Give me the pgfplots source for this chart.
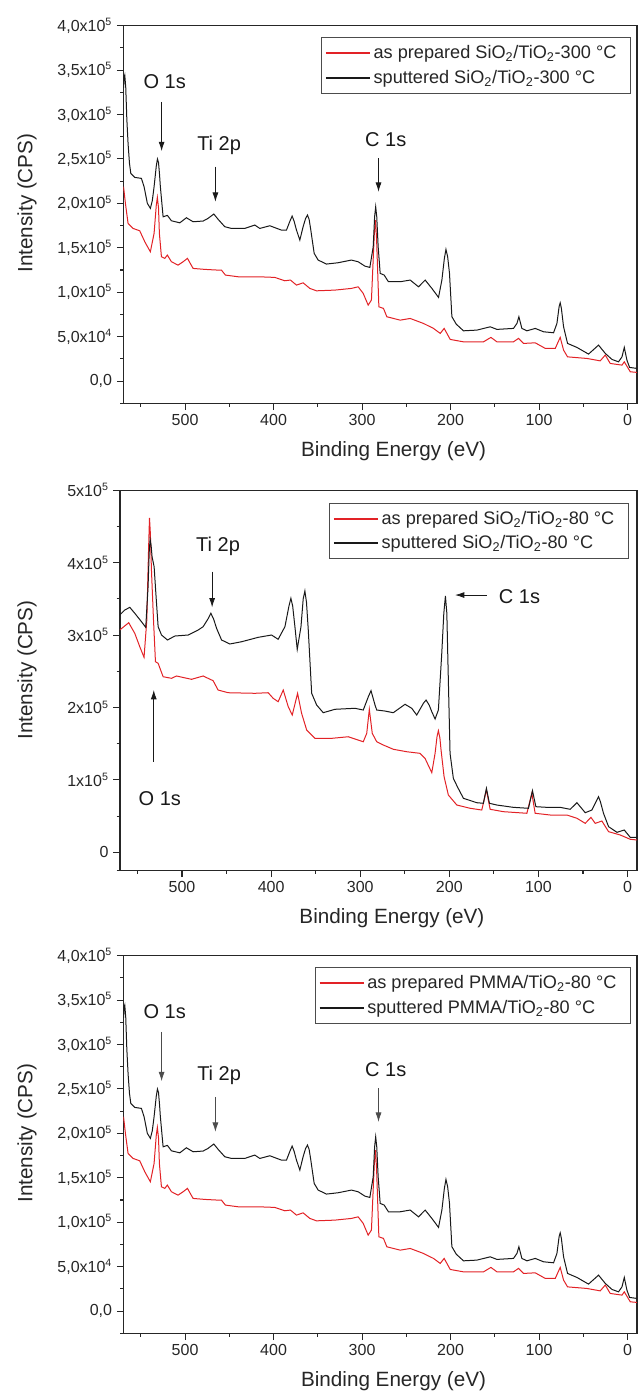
\documentclass[border=0pt]{standalone}
\usepackage{pgfplots}
\pgfplotsset{compat=1.18}
\usepackage{pgfplotstable}
\usetikzlibrary{arrows.meta}
\usepackage{fontspec}
\setmainfont{Liberation Sans}
\definecolor{spred}{RGB}{226,34,38}

% Panel 1 / 3 : sputtered (black)
\pgfplotstableread{
E I
569.5 330000
568.8 342000
568.1 344400
567.0 330000
565.8 295000
564.4 267500
562.8 245000
561.3 233700
556.8 229200
549.3 228100
546.3 218700
542.6 200000
539.2 194400
537.0 203000
535.0 218700
532.5 242000
531.2 249800
530.0 246000
528.8 232000
527.9 218700
524.8 184900
520.0 186500
515.4 180400
505.9 178100
498.5 183800
490.9 179300
479.6 180100
474.0 183100
467.5 188000
462.6 182000
455.1 173700
447.6 171800
432.5 171800
421.2 175600
415.5 171800
404.2 174800
391.1 169900
385.4 169900
381.5 180000
379.0 185700
376.8 180000
374.1 169900
370.3 158700
366.6 173700
363.8 183000
361.7 186800
359.8 182000
357.9 169900
354.1 143700
349.6 136200
340.2 131700
327.0 133200
312.0 136200
304.4 134300
296.8 129400
291.2 127900
287.4 151100
285.8 185000
284.6 196100
283.4 185000
281.8 151100
279.5 121200
275.0 119300
270.2 111800
256.9 111800
245.6 113700
236.2 106100
228.7 113700
221.1 104300
213.6 94200
209.8 113700
207.0 138000
205.2 148200
203.3 140000
201.2 121200
198.5 72500
193.6 64100
185.4 56600
170.2 57400
155.2 61100
147.6 58200
128.9 59300
125.0 64900
122.8 72400
119.4 59300
113.7 56600
104.3 59300
94.9 55500
83.6 54400
79.8 64900
77.3 84000
76.1 88100
74.8 82000
72.3 61100
67.8 42400
57.2 37900
44.1 30400
32.8 40500
25.2 31200
17.6 24400
10.2 21700
6.3 27300
3.7 37900
0.7 23600
-2.3 15400
-10.6 14300
}\blackA

% Panel 1 / 3 : as prepared (red)
\pgfplotstableread{
E I
569.5 218700
567.4 200000
564.4 177500
558.7 171800
551.2 169100
545.5 156800
539.2 145500
535.0 166200
532.5 198000
531.3 206700
530.0 195000
529.0 166200
526.7 139900
522.9 138100
520.0 141800
515.4 134300
507.9 130500
502.2 134300
497.3 138100
490.9 126800
477.7 125700
462.6 124900
458.9 124900
454.4 119300
440.0 117400
417.4 117400
398.6 116700
387.3 112900
380.9 113700
374.1 108000
366.6 110600
359.0 104300
351.5 101600
330.7 102400
312.0 104300
304.4 106100
298.7 98700
293.1 85500
289.4 91200
286.2 165000
284.8 181200
283.6 160000
281.0 83600
275.8 81800
272.0 72400
256.9 68600
245.6 70500
230.6 64900
219.3 59300
211.7 53700
207.2 59300
200.4 46900
185.4 44200
162.8 44200
154.4 49200
147.6 44200
128.9 44200
123.2 48100
117.6 42400
104.3 43100
93.0 36800
81.7 36800
76.1 49200
72.3 34900
67.8 27300
45.9 25500
30.9 22800
25.2 29300
19.6 19900
6.3 18000
3.7 21700
-3.1 10500
-10.6 9800
}\redA

% Panel 2 : sputtered (black)
\pgfplotstableread{
E I
569.9 327700
564.3 334600
558.6 338300
553.0 330100
545.5 318500
540.7 310700
538.1 366800
536.8 415000
535.8 432200
534.7 424000
533.6 408200
531.3 394400
529.1 353000
526.8 311600
523.0 300100
516.3 293200
508.1 298700
493.1 300100
481.9 307000
476.3 311600
471.0 322000
467.6 330100
464.5 322000
461.2 309300
455.6 293200
446.3 287700
433.2 290800
414.5 296900
399.5 300100
392.1 294200
384.5 311600
380.0 340000
377.8 350800
375.8 340000
373.3 311600
370.7 280300
366.5 311600
364.0 350000
362.1 360900
360.3 345000
358.3 307000
354.5 219600
348.9 203400
341.5 192800
328.4 197500
305.9 198900
296.6 196500
290.9 214900
287.9 223200
283.4 203400
281.5 196500
272.2 195100
262.9 192800
249.7 204400
242.2 198900
236.6 189600
229.0 206000
226.1 210300
222.5 203000
219.7 194200
216.0 184100
212.3 196500
208.5 274800
206.2 330000
204.4 354000
202.8 330000
201.8 274800
199.2 136700
195.5 102200
191.0 90600
184.2 74600
169.2 68500
161.8 67700
158.4 88400
155.0 67700
146.7 65300
128.1 62100
111.2 60800
106.7 85100
102.9 63000
90.5 62100
75.6 62100
64.4 59400
56.8 68500
47.5 54700
40.0 58400
34.5 72000
32.6 76800
30.5 70000
27.0 53900
21.3 35400
11.9 27600
3.7 30800
-3.0 20700
-10.6 20700
}\blackB

% Panel 2 : as prepared (red)
\pgfplotstableread{
E I
569.9 307000
559.8 317100
553.0 302400
547.4 283900
542.6 269300
539.5 320800
537.5 420000
536.5 462000
535.5 440000
534.3 389900
532.0 320800
529.8 263200
526.8 261000
521.2 242500
511.8 240300
506.2 243500
489.3 238900
476.3 243500
465.1 237000
459.5 224100
448.2 220400
418.2 219600
403.3 220400
397.7 212700
392.1 208000
386.4 224100
380.8 201100
376.3 189600
370.3 219600
365.8 192000
360.1 168900
350.8 157400
332.1 157400
313.4 159600
296.6 152700
292.7 164300
289.8 197500
286.5 164300
281.5 152700
274.1 148200
262.9 142300
247.8 138900
232.9 136700
227.3 129800
219.7 110000
216.0 136700
213.8 160000
212.3 168000
210.6 158000
209.3 141300
205.9 104400
201.1 79100
191.6 65300
176.7 60800
163.6 58400
158.4 86000
154.2 59400
139.3 56100
113.0 53900
107.4 81500
103.7 53900
86.8 51500
68.1 51500
56.8 47000
47.5 40000
41.1 48300
36.3 40000
28.8 43200
21.3 28500
8.2 23900
-3.0 18000
-10.6 17000
}\redB

\tikzset{
  ann/.style={font=\fontsize{15}{18}\selectfont, text=black!90},
  annarrow/.style={-{Latex[length=7pt,width=4.5pt]}, line width=0.6pt, black!90},
  annarrowg/.style={-{Latex[length=7pt,width=4.5pt]}, line width=0.5pt, black!70},
}

\pgfplotsset{
  xpsbase/.style={
    scale only axis,
    x dir=reverse,
    xmin=-10.6, xmax=569.6,
    ymin=-25000,
    axis line style={line width=1pt, black!85},
    tick pos=left,
    tick align=outside,
    major tick length=5pt,
    minor tick length=2.5pt,
    every tick/.style={black!85, line width=0.8pt},
    xtick={0,100,200,300,400,500},
    minor xtick={50,150,250,350,450,550},
    scaled ticks=false,
    /pgf/number format/assume math mode=true,
    tick label style={font=\fontsize{12}{14}\selectfont, black!85},
    label style={font=\fontsize{15.5}{18}\selectfont, black!85},
    xlabel={Binding Energy (eV)},
    ylabel={Intensity (CPS)},
    xlabel style={at={(axis description cs:0.526,-0.126)}, anchor=center},
    legend cell align=left,
    legend style={draw=black!70, line width=0.6pt, fill=white,
      font=\fontsize{13.6}{16}\selectfont, text=black!85,
      inner xsep=2.5pt, inner ysep=4pt, row sep=3pt,
      /tikz/every even column/.append style={column sep=1pt}},
    legend image code/.code={\draw[#1, line width=1.6pt] (0pt,0pt) -- (33pt,0pt);},
  },
  redline/.style={color=spred, line width=0.75pt},
  blackline/.style={color=black!90, line width=0.75pt},
}

\begin{document}
\begin{tikzpicture}
\path[use as bounding box] (0,0) rectangle (481.5pt,-1045.5pt);

% ---------- Panel 1 ----------
\begin{axis}[xpsbase,
  at={(92.6pt,-302.5pt)}, anchor=south west,
  width=385.1pt, height=283.3pt,
  ymax=400000,
  ytick={0,50000,100000,150000,200000,250000,300000,350000,400000},
  yticklabels={{0,0},{5,0x10\textsuperscript{4}},{1,0x10\textsuperscript{5}},{1,5x10\textsuperscript{5}},{2,0x10\textsuperscript{5}},{2,5x10\textsuperscript{5}},{3,0x10\textsuperscript{5}},{3,5x10\textsuperscript{5}},{4,0x10\textsuperscript{5}}},
  minor ytick={-25000,25000,75000,125000,175000,225000,275000,325000,375000},
  ylabel style={at={(axis description cs:-0.188,0.53)}, anchor=center},
  legend style={at={(axis description cs:0.988,0.969)}, anchor=north east},
]
\addplot[redline] table[x=E,y=I] {\redA};
\addlegendentry{as prepared SiO\textsubscript{2}/TiO\textsubscript{2}-300 °C\hspace*{6pt}}
\addplot[blackline] table[x=E,y=I] {\blackA};
\addlegendentry{sputtered SiO\textsubscript{2}/TiO\textsubscript{2}-300 °C}
\node[ann] at (axis cs:523,336800) {O 1s};
\draw[annarrow] (axis cs:526.5,314300) -- (axis cs:526.5,258800);
\node[ann] at (axis cs:461.5,265000) {Ti 2p};
\draw[annarrow] (axis cs:465.7,241200) -- (axis cs:465.7,201800);
\node[ann] at (axis cs:273.2,271200) {C 1s};
\draw[annarrow] (axis cs:281.4,250600) -- (axis cs:281.4,213000);
\end{axis}

% ---------- Panel 2 ----------
\begin{axis}[xpsbase,
  at={(90pt,-652.8pt)}, anchor=south west,
  width=387.75pt, height=285.1pt,
  ymax=500000,
  ytick={0,100000,200000,300000,400000,500000},
  yticklabels={{0},{1x10\textsuperscript{5}},{2x10\textsuperscript{5}},{3x10\textsuperscript{5}},{4x10\textsuperscript{5}},{5x10\textsuperscript{5}}},
  minor ytick={-25000,50000,150000,250000,350000,450000},
  ylabel style={at={(axis description cs:-0.18,0.527)}, anchor=center},
  legend style={at={(axis description cs:0.984,0.967)}, anchor=north east},
]
\addplot[redline] table[x=E,y=I] {\redB};
\addlegendentry{as prepared SiO\textsubscript{2}/TiO\textsubscript{2}-80 °C\hspace*{6pt}}
\addplot[blackline] table[x=E,y=I] {\blackB};
\addlegendentry{sputtered SiO\textsubscript{2}/TiO\textsubscript{2}-80 °C}
\node[ann] at (axis cs:459.5,422000) {Ti 2p};
\draw[annarrow] (axis cs:466.2,387500) -- (axis cs:466.2,338300);
\node[ann] at (axis cs:524.9,74600) {O 1s};
\draw[annarrow] (axis cs:531.7,125100) -- (axis cs:531.7,224100);
\node[ann] at (axis cs:121.3,353000) {C 1s};
\draw[annarrow] (axis cs:157.9,355300) -- (axis cs:193.6,355300);
\end{axis}

% ---------- Panel 3 ----------
\begin{axis}[xpsbase,
  at={(92.6pt,-1000pt)}, anchor=south west,
  width=385.1pt, height=283.3pt,
  ymax=400000,
  ytick={0,50000,100000,150000,200000,250000,300000,350000,400000},
  yticklabels={{0,0},{5,0x10\textsuperscript{4}},{1,0x10\textsuperscript{5}},{1,5x10\textsuperscript{5}},{2,0x10\textsuperscript{5}},{2,5x10\textsuperscript{5}},{3,0x10\textsuperscript{5}},{3,5x10\textsuperscript{5}},{4,0x10\textsuperscript{5}}},
  minor ytick={-25000,25000,75000,125000,175000,225000,275000,325000,375000},
  ylabel style={at={(axis description cs:-0.188,0.53)}, anchor=center},
  legend style={at={(axis description cs:0.988,0.969)}, anchor=north east},
]
\addplot[redline] table[x=E,y=I] {\redA};
\addlegendentry{as prepared PMMA/TiO\textsubscript{2}-80 °C\hspace*{6pt}}
\addplot[blackline] table[x=E,y=I] {\blackA};
\addlegendentry{sputtered PMMA/TiO\textsubscript{2}-80 °C}
\node[ann] at (axis cs:523,336800) {O 1s};
\draw[annarrowg] (axis cs:526.5,314300) -- (axis cs:526.5,258800);
\node[ann] at (axis cs:461.5,265000) {Ti 2p};
\draw[annarrowg] (axis cs:465.7,241200) -- (axis cs:465.7,201800);
\node[ann] at (axis cs:273.2,271200) {C 1s};
\draw[annarrowg] (axis cs:281.4,250600) -- (axis cs:281.4,213000);
\end{axis}
\end{tikzpicture}
\end{document}
